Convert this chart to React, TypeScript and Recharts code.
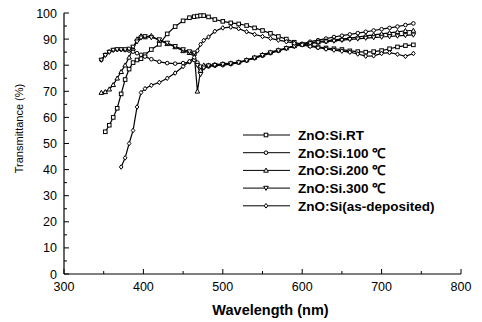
import { LineChart, Line, XAxis, YAxis, Legend } from 'recharts';

// wavelength grid (nm)
const wavelength = [
  347, 352, 357, 362, 367, 372, 377, 382, 387, 392, 397, 402, 410, 420, 430, 440, 450, 458,
  464, 468, 472, 476, 482, 490, 500, 510, 520, 530, 540, 550, 560, 570, 580, 590, 600, 610,
  620, 630, 640, 650, 660, 670, 680, 690, 700, 710, 720, 730, 740,
];

// transmittance (%) per sample
const rt = [
  null, 54.5, 57, 60, 63.5, 69, 74.5, 78.5, 81, 82, 82.5, 84, 86, 88, 92, 94.8, 97, 98.2,
  98.6, 98.8, 99, 99, 98.5, 97.5, 96.8, 96.2, 95.8, 95.2, 94.3, 93.3, 92.2, 91, 90, 88.8, 88, 87.5,
  87, 86.6, 86.3, 86, 85.5, 85.2, 85, 85.2, 85.6, 86.3, 87, 87.5, 87.8,
];
const t100 = [
  82, 84, 85.2, 85.8, 86, 86, 85.8, 85.6, 85.2, 84.6, 84, 83.3, 82.3, 81.3, 80.8, 80.6, 80.8, 81.2,
  82, 81, 79.5, 79.2, 79.5, 79.8, 80, 80.4, 81, 81.8, 82.7, 83.6, 84.6, 85.5, 86.5, 87.4, 88.2, 89,
  89.6, 90.2, 90.8, 91.3, 91.8, 92.3, 92.8, 93.3, 93.8, 94.3, 94.8, 95.4, 96,
];
const t200 = [
  69.5, 69.8, 70.8, 72.5, 75, 77.5, 80, 83, 86.5, 90, 91.2, 90.8, 91.3, 89.5, 88.2, 87, 85.5, 84.8,
  84.5, 70, 78, 80, 80, 80.2, 80.5, 80.8, 81.2, 82, 83, 84, 85, 85.8, 86.6, 87.4, 88, 88.5,
  89, 89.3, 89.7, 90, 90.4, 90.8, 91.2, 91.6, 92, 92.4, 92.8, 93.2, 93.3,
];
const t300 = [
  82, 83.8, 85, 85.8, 86, 86, 86, 86.2, 87, 89, 90.5, 91, 90.6, 89.8, 88.5, 87.2, 86, 85.2,
  84.7, 80, 76.5, 79, 79.8, 80, 80.3, 80.6, 81, 81.8, 82.8, 83.8, 84.8, 85.6, 86.4, 87.2, 87.9, 88.3,
  88.7, 89, 89.3, 89.6, 89.9, 90.1, 90.4, 90.6, 90.8, 91, 91.2, 91.4, 91.6,
];
const asDep = [
  null, null, null, null, null, 41, 44.5, 50, 55, 64, 69.5, 71, 72.3, 73.4, 75, 77, 79.5, 81.5,
  83, 85.5, 88, 89.5, 90.8, 93, 94.3, 94.6, 94, 92.8, 91.8, 91, 90.3, 89.6, 89, 88.4, 87.8, 87.2,
  86.7, 86.2, 85.8, 85.4, 85, 84.3, 83.5, 83.6, 84.5, 84.8, 84.2, 83.4, 84.5,
];

const xTicks = [300, 350, 400, 450, 500, 550, 600, 650, 700, 750, 800];
const yTicks = [0, 5, 10, 15, 20, 25, 30, 35, 40, 45, 50, 55, 60, 65, 70, 75, 80, 85, 90, 95, 100];

const series = [
  { key: 'rt', name: 'ZnO:Si.RT', shape: 'square' },
  { key: 't100', name: 'ZnO:Si.100 \u2103', shape: 'circle' },
  { key: 't200', name: 'ZnO:Si.200 \u2103', shape: 'up' },
  { key: 't300', name: 'ZnO:Si.300 \u2103', shape: 'down' },
  { key: 'asDep', name: 'ZnO:Si(as-deposited)', shape: 'diamond' },
];

const data = wavelength.map((w, i) => ({
  w,
  rt: rt[i],
  t100: t100[i],
  t200: t200[i],
  t300: t300[i],
  asDep: asDep[i],
}));

const FONT = '"Liberation Sans", Arial, sans-serif';

function Marker({ cx, cy, shape, s = 1.8 }: any) {
  if (cx == null || cy == null) return null;
  const common = { fill: '#fff', stroke: '#000', strokeWidth: 1 };
  switch (shape) {
    case 'square':
      return <rect x={cx - s} y={cy - s} width={2 * s} height={2 * s} {...common} />;
    case 'circle':
      return <circle cx={cx} cy={cy} r={s} {...common} />;
    case 'up':
      return <polygon points={`${cx},${cy - s - 0.5} ${cx - s - 0.5},${cy + s} ${cx + s + 0.5},${cy + s}`} {...common} />;
    case 'down':
      return <polygon points={`${cx},${cy + s + 0.5} ${cx - s - 0.5},${cy - s} ${cx + s + 0.5},${cy - s}`} {...common} />;
    default:
      return <polygon points={`${cx},${cy - s - 0.5} ${cx + s},${cy} ${cx},${cy + s + 0.5} ${cx - s},${cy}`} {...common} />;
  }
}

const YTick = ({ x, y, payload }: any) => {
  const major = payload.value % 10 === 0;
  const ax = x + 7;
  return (
    <g>
      <line x1={ax} x2={ax + (major ? 5 : 3)} y1={y} y2={y} stroke="#000" />
      {major && (
        <text x={x} y={y} dy={4.5} textAnchor="end" fontSize={12.5} fontFamily={FONT} fill="#000">
          {payload.value}
        </text>
      )}
    </g>
  );
};

const XTick = ({ x, y, payload }: any) => {
  const major = payload.value % 100 === 0;
  return (
    <g>
      <line x1={x} x2={x} y1={y} y2={y - (major ? 5 : 3)} stroke="#000" />
      {major && (
        <text x={x} y={y + 17} textAnchor="middle" fontSize={12.5} fontFamily={FONT} fill="#000">
          {payload.value}
        </text>
      )}
    </g>
  );
};

const renderLegend = () => (
  <svg width={240} height={95} style={{ display: 'block' }}>
    {series.map((s, i) => {
      const y = 9 + i * 17.7;
      return (
        <g key={s.key}>
          <line x1={3} x2={50} y1={y} y2={y} stroke="#000" strokeWidth={1} />
          <Marker cx={26} cy={y} shape={s.shape} />
          <text x={58} y={y + 5} fontSize={13.5} fontWeight="bold" fontFamily={FONT} fill="#000">
            {s.name}
          </text>
        </g>
      );
    })}
  </svg>
);

export default function App() {
  return (
    <div style={{ position: 'absolute', left: 0, top: 0, background: '#fff' }}>
      <LineChart width={482} height={322} data={data} margin={{ top: 13, right: 21, bottom: 0, left: 0 }}>
        <XAxis
          dataKey="w"
          type="number"
          domain={[300, 800]}
          ticks={xTicks}
          interval={0}
          height={48}
          tickSize={0}
          tickMargin={0}
          tickLine={false}
          tick={<XTick />}
          axisLine={{ stroke: '#000', strokeWidth: 1.2 }}
          label={(props: any) => {
            const vb = props.viewBox;
            return (
              <text x={vb.x + vb.width / 2 + 8} y={vb.y + 41} textAnchor="middle" fontSize={14.5} fontWeight="bold" fontFamily={FONT} fill="#000">
                Wavelength (nm)
              </text>
            );
          }}
        />
        <YAxis
          type="number"
          domain={[0, 100]}
          ticks={yTicks}
          interval={0}
          width={64}
          tickSize={0}
          tickMargin={7}
          tickLine={false}
          tick={<YTick />}
          axisLine={{ stroke: '#000', strokeWidth: 1.2 }}
          label={(props: any) => {
            const vb = props.viewBox;
            const cx = vb.x + 19;
            const cy = vb.y + vb.height / 2 - 15;
            return (
              <text x={cx} y={cy} transform={`rotate(-90 ${cx} ${cy})`} textAnchor="middle" dominantBaseline="central" fontSize={11} fontFamily={FONT} fill="#000">
                Transmittance (%)
              </text>
            );
          }}
        />
        <Legend
          layout="vertical"
          align="center"
          verticalAlign="middle"
          content={renderLegend}
          wrapperStyle={{ left: 240, top: 126, width: 240, height: 95 }}
        />
        {series.map((s) => (
          <Line
            key={s.key}
            dataKey={s.key}
            name={s.name}
            type="linear"
            stroke="#000"
            strokeWidth={1.2}
            isAnimationActive={false}
            dot={(p: any) => <Marker key={`${s.key}-${p.index}`} cx={p.cx} cy={p.cy} shape={s.shape} />}
            activeDot={false}
          />
        ))}
      </LineChart>
    </div>
  );
}
